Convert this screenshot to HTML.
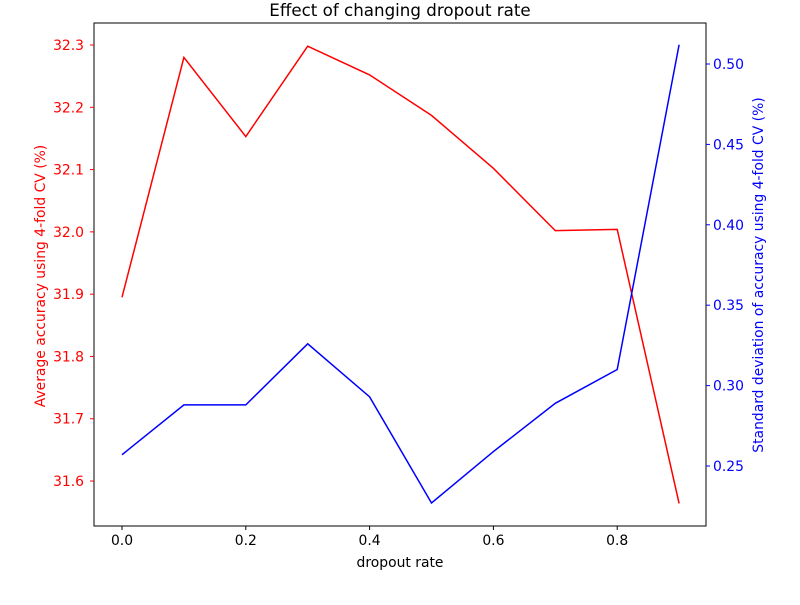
<!DOCTYPE html>
<html><head><meta charset="utf-8"><style>body{margin:0;background:#fff}svg{font-family:"DejaVu Sans","Liberation Sans",sans-serif}</style></head>
<body>
<svg id="chart" width="800" height="600"></svg>
<script>
const xs=[0.0,0.1,0.2,0.3,0.4,0.5,0.6,0.7,0.8,0.9];
const accuracy=[31.895,32.280,32.153,32.298,32.252,32.187,32.102,32.002,32.004,31.564];
const stdev=[0.257,0.288,0.288,0.326,0.293,0.227,0.259,0.289,0.310,0.512];
const xTicks=[0.0,0.2,0.4,0.6,0.8];
const leftTicks=[31.6,31.7,31.8,31.9,32.0,32.1,32.2,32.3];
const rightTicks=[0.25,0.30,0.35,0.40,0.45,0.50];
const L=94,R=706,T=23,B=526;
const xS=v=>122+v*619;
const yL=v=>45+(32.3-v)*622.9;
const yR=v=>64+(0.5-v)*1608;
const svg=document.getElementById('chart');
const NS='http://www.w3.org/2000/svg';
function mk(t,a,txt){const e=document.createElementNS(NS,t);for(const k in a)e.setAttribute(k,a[k]);if(txt!=null)e.textContent=txt;svg.appendChild(e);return e;}
let e;
e=mk('rect',{x:L,y:T,width:R-L,height:B-T,fill:'none',stroke:'#000','stroke-width':1});


xTicks.forEach(v=>{const x=xS(v);
e=mk('line',{x1:x,x2:x,y1:B,y2:B+4,stroke:'#000'});


e=mk('text',{x:x,y:B+19,'text-anchor':'middle','font-size':13.9},v.toFixed(1));

});
leftTicks.forEach(v=>{const y=yL(v);
e=mk('line',{x1:L-4,x2:L,y1:y,y2:y,stroke:'red'});


e=mk('text',{x:L-10,y:y+5,'text-anchor':'end','font-size':13.9,fill:'red'},v.toFixed(1));

});
rightTicks.forEach(v=>{const y=yR(v);
e=mk('line',{x1:R,x2:R+4,y1:y,y2:y,stroke:'blue'});


e=mk('text',{x:R+7,y:y+5,'font-size':13.9,fill:'blue'},v.toFixed(2));

});
e=mk('polyline',{points:xs.map((v,i)=>xS(v)+','+yL(accuracy[i])).join(' '),fill:'none',stroke:'red','stroke-width':1.5});


e=mk('polyline',{points:xs.map((v,i)=>xS(v)+','+yR(stdev[i])).join(' '),fill:'none',stroke:'blue','stroke-width':1.5});


e=mk('text',{x:400,y:16,'text-anchor':'middle','font-size':16.7},'Effect of changing dropout rate');


e=mk('text',{x:400,y:567,'text-anchor':'middle','font-size':13.9},'dropout rate');


e=mk('text',{x:45,y:276,'text-anchor':'middle','font-size':13.9,fill:'red',transform:'rotate(-90 45 276)'},'Average accuracy using 4-fold CV (%)');


e=mk('text',{x:763,y:275,'text-anchor':'middle','font-size':13.9,fill:'blue',transform:'rotate(-90 763 275)'},'Standard deviation of accuracy using 4-fold CV (%)');


</script>
</body></html>
